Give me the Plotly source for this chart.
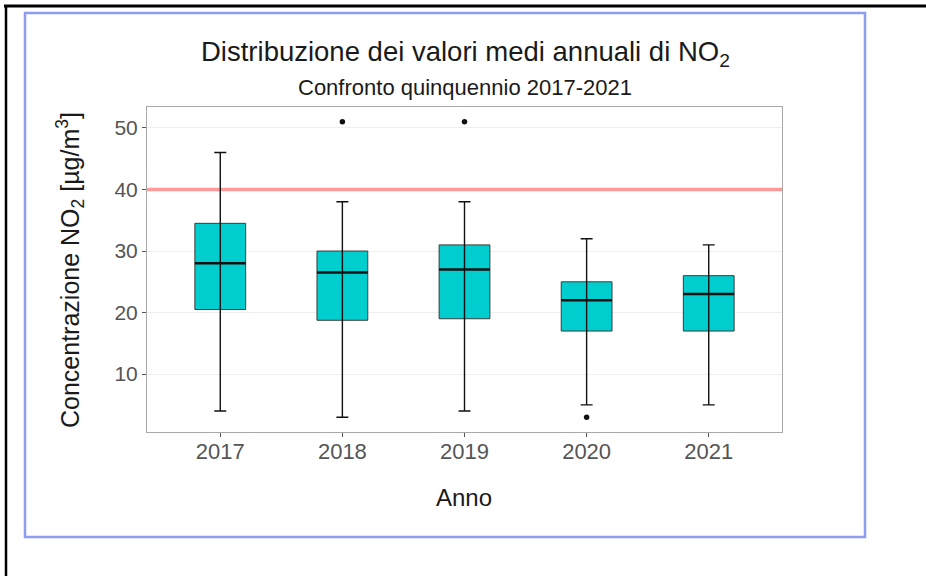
import plotly.graph_objects as go

# ---- data ----
years = ["2017", "2018", "2019", "2020", "2021"]
lower_whisker = [4, 3, 4, 5, 5]
q1 = [20.5, 18.75, 19, 17, 17]
median = [28, 26.5, 27, 22, 23]
q3 = [34.5, 30, 31, 25, 26]
upper_whisker = [46, 38, 38, 32, 31]
outlier_year = ["2018", "2019", "2020"]
outlier_value = [51, 51, 3]
limit_value = 40
y_ticks = [10, 20, 30, 40, 50]

# ---- geometry helpers (pixel layout) ----
W, H = 926, 576
L, R, T, B = 147, 782, 107, 432
PW, PH = R - L, B - T
X_RANGE = [0.4, 5.6]


def px(x):
    return (x - L) / PW


def py(y):
    return (B - y) / PH


pos = [i + 1 for i in range(len(years))]
pos_of = {y: p for y, p in zip(years, pos)}
box_w = 0.416

FONT = "Liberation Sans, Arial, Helvetica, sans-serif"

fig = go.Figure()

# limit line (drawn first, under the boxes)
fig.add_trace(go.Scatter(
    x=X_RANGE, y=[limit_value, limit_value], mode="lines",
    line=dict(color="#FF9A9A", width=3.5),
    hoverinfo="skip", showlegend=False, cliponaxis=True,
))

# boxes
fig.add_trace(go.Bar(
    x=pos,
    y=[b - a for a, b in zip(q1, q3)],
    base=q1,
    width=box_w,
    marker=dict(color="#00CDCD", line=dict(color="#3c3c3c", width=1)),
    hoverinfo="skip",
    showlegend=False,
))

# medians
mx, my = [], []
for p, m in zip(pos, median):
    mx += [p - box_w / 2, p + box_w / 2, None]
    my += [m, m, None]
fig.add_trace(go.Scatter(
    x=mx, y=my, mode="lines",
    line=dict(color="#111111", width=2.5),
    hoverinfo="skip", showlegend=False,
))

# whiskers with caps (through the box)
fig.add_trace(go.Scatter(
    x=pos, y=median, mode="markers",
    marker=dict(size=1, color="rgba(0,0,0,0)"),
    error_y=dict(
        type="data", symmetric=False,
        array=[u - m for u, m in zip(upper_whisker, median)],
        arrayminus=[m - lw for m, lw in zip(median, lower_whisker)],
        color="#111111", thickness=1.4, width=6,
    ),
    hoverinfo="skip", showlegend=False,
))

# outliers
fig.add_trace(go.Scatter(
    x=[pos_of[y] for y in outlier_year], y=outlier_value, mode="markers",
    marker=dict(color="#111111", size=5.5),
    hoverinfo="skip", showlegend=False,
))

shapes = [
    # outer black frame
    dict(type="line", xref="paper", yref="paper", x0=px(4), x1=px(930),
         y0=py(6), y1=py(6), line=dict(color="black", width=3)),
    dict(type="line", xref="paper", yref="paper", x0=px(6), x1=px(6),
         y0=py(5), y1=py(580), line=dict(color="black", width=2.5)),
    # blue frame
    dict(type="rect", xref="paper", yref="paper", x0=px(25), x1=px(865),
         y0=py(13), y1=py(537), line=dict(color="#8F9DF0", width=2.5),
         fillcolor="rgba(0,0,0,0)"),
]

annotations = [
    dict(text="Distribuzione dei valori medi annuali di NO<sub>2</sub>",
         xref="paper", yref="paper", x=px(465), y=py(53),
         xanchor="center", yanchor="middle", showarrow=False,
         font=dict(family=FONT, size=27.5, color="#1a1a1a")),
    dict(text="Confronto quinquennio 2017-2021",
         xref="paper", yref="paper", x=px(465), y=py(88),
         xanchor="center", yanchor="middle", showarrow=False,
         font=dict(family=FONT, size=22, color="#1a1a1a")),
    dict(text="Anno",
         xref="paper", yref="paper", x=px(464), y=py(497),
         xanchor="center", yanchor="middle", showarrow=False,
         font=dict(family=FONT, size=24, color="#1a1a1a")),
    dict(text="Concentrazione NO<sub>2</sub> [µg/m<sup>3</sup>]",
         xref="paper", yref="paper", x=px(70), y=py(270),
         xanchor="center", yanchor="middle", showarrow=False, textangle=-90,
         font=dict(family=FONT, size=25, color="#1a1a1a")),
]

fig.update_layout(
    width=W, height=H,
    margin=dict(l=L, r=W - R, t=T, b=H - B, pad=0),
    paper_bgcolor="white", plot_bgcolor="white",
    showlegend=False,
    shapes=shapes,
    annotations=annotations,
    font=dict(family=FONT),
    xaxis=dict(
        range=X_RANGE, tickmode="array", tickvals=pos, ticktext=years,
        showgrid=False, zeroline=False,
        showline=True, mirror=True, linecolor="#A8A8A8", linewidth=1,
        ticks="outside", ticklen=4, tickcolor="#555555", tickwidth=1,
        ticklabelstandoff=-4,
        tickfont=dict(family=FONT, size=22, color="#555555"),
    ),
    yaxis=dict(
        range=[0.6, 53.4], tickmode="array", tickvals=y_ticks,
        showgrid=True, gridcolor="#EFEFEF", gridwidth=1, zeroline=False,
        showline=True, mirror=True, linecolor="#A8A8A8", linewidth=1,
        ticks="outside", ticklen=4, tickcolor="#555555", tickwidth=1,
        tickfont=dict(family=FONT, size=21, color="#555555"),
    ),
)

fig.write_html(
    "out.html",
    config={"displayModeBar": False},
    post_script="document.body.style.margin='0px';document.body.style.overflow='hidden';",
)
